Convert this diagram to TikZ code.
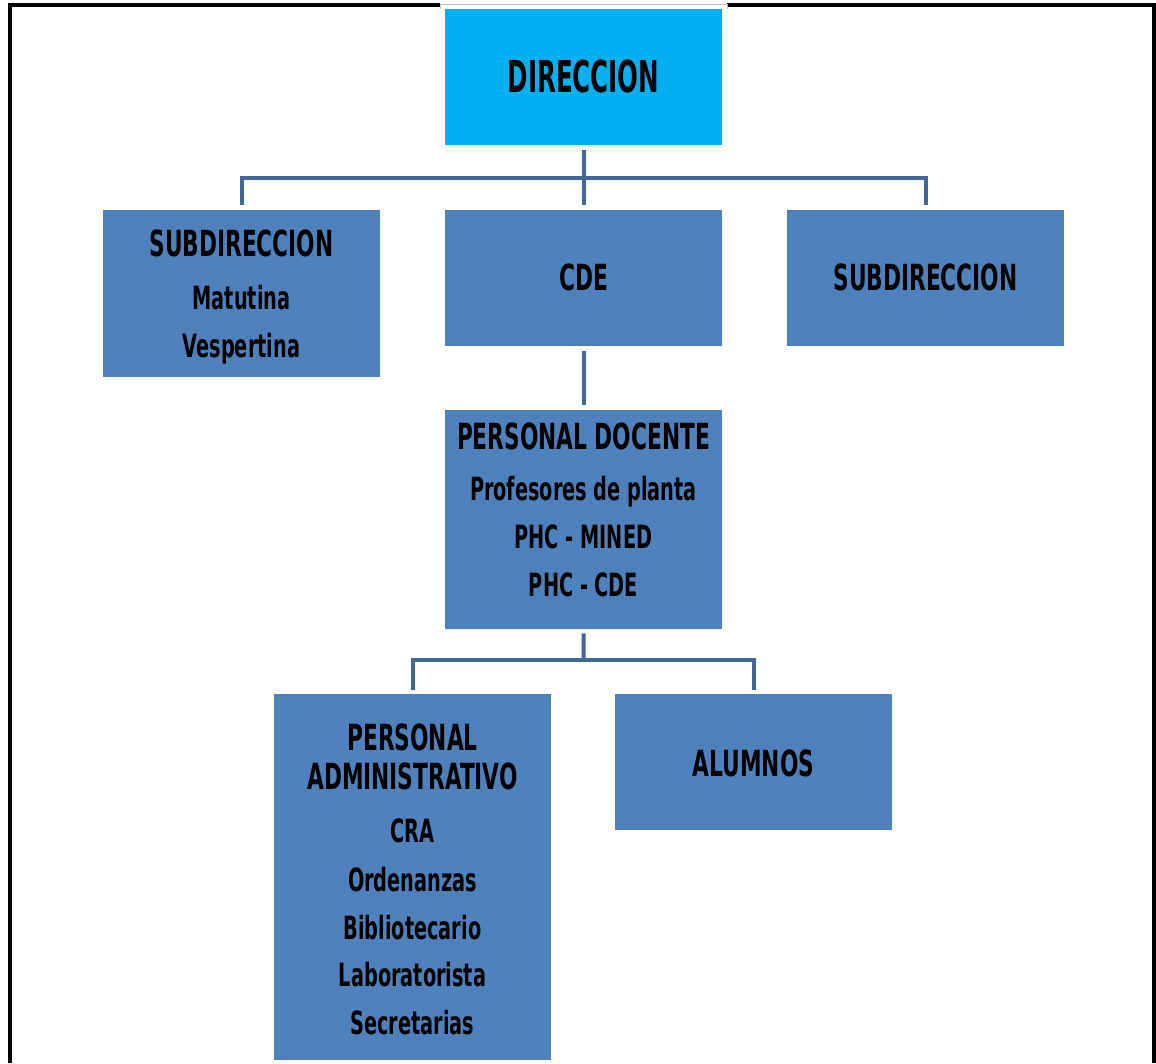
\documentclass[tikz,border=0pt]{standalone}
\usepackage{fontspec}
\newfontfamily\agency{DejaVu Sans Condensed}[FakeStretch=0.67]
\newfontfamily\agencytop{DejaVu Sans Condensed}[FakeStretch=0.62]
\definecolor{boxblue}{HTML}{4F81BD}
\definecolor{topcyan}{HTML}{00B0F0}
\definecolor{connblue}{HTML}{41689A}
\begin{document}
\begin{tikzpicture}[x=1pt,y=-1pt,
  box/.style={fill=boxblue, minimum width=277pt, inner sep=0pt, anchor=north west},
  conn/.style={draw=connblue, line width=4pt},
  bigtxt/.style={anchor=base, inner sep=0pt, font=\agencytop\bfseries\fontsize{44}{44}\selectfont},
  ttl/.style={anchor=base, inner sep=0pt, font=\agency\bfseries\fontsize{36}{36}\selectfont},
  itm/.style={anchor=base, inner sep=0pt, font=\agency\bfseries\fontsize{32}{32}\selectfont}]
\useasboundingbox (0,0) rectangle (1156,1063);
% frame
\draw[line width=4pt] (10,1063) -- (10,5) -- (1154,5) -- (1154,1063);
\fill[white] (440,1) rectangle (727,9);
\draw[black!25, line width=0.8pt] (440,9) -- (440,4) -- (727,4) -- (727,9);
% boxes
\node[box, fill=topcyan, minimum height=136pt] (dir) at (445,9) {};
\node[box, minimum height=167pt] (subl) at (103,210) {};
\node[box, minimum height=136pt] (cde) at (445,210) {};
\node[box, minimum height=136pt] (subr) at (787,210) {};
\node[box, minimum height=219pt] (doc) at (445,410) {};
\node[box, minimum height=366pt] (adm) at (274,694) {};
\node[box, minimum height=136pt] (alu) at (615,694) {};
% connectors
\coordinate (bus1) at (583.5,178);
\coordinate (bus2) at (583.5,660);
\draw[conn] ([yshift=-5pt]dir.south) -- ([yshift=5pt]cde.north);
\draw[conn] ([yshift=5pt]subl.north) |- (bus1) -| ([yshift=5pt]subr.north);
\draw[conn] ([yshift=-5pt]cde.south) -- ([yshift=5pt]doc.north);
\draw[conn] ([yshift=-4pt]doc.south) -- (bus2);
\draw[conn] ([yshift=4pt]adm.north) |- (bus2) -| ([yshift=4pt]alu.north);
% texts
\node[bigtxt] (tdir) at (583.5,92) {DIRECCION};
\node[ttl] (tsubl) at (241.5,256) {SUBDIRECCION};
\node[itm] (tmat) at (241.5,309) {Matutina};
\node[itm] (tves) at (241.5,357) {Vespertina};
\node[ttl] (tcde) at (583.5,290) {CDE};
\node[ttl] (tsubr) at (925.5,290) {SUBDIRECCION};
\node[ttl] (tdoc) at (583.5,449) {PERSONAL DOCENTE};
\node[itm] (tpro) at (583.5,500) {Profesores de planta};
\node[itm] (tmin) at (583.5,548) {PHC - MINED};
\node[itm] (tphc) at (583.5,596) {PHC - CDE};
\node[ttl] (tper) at (412.5,750) {PERSONAL};
\node[ttl] (tadm) at (412.5,789) {ADMINISTRATIVO};
\node[itm] (tcra) at (412.5,842) {CRA};
\node[itm] (tord) at (412.5,891) {Ordenanzas};
\node[itm] (tbib) at (412.5,939) {Bibliotecario};
\node[itm] (tlab) at (412.5,986) {Laboratorista};
\node[itm] (tsec) at (412.5,1034) {Secretarias};
\node[ttl] (talu) at (753.5,776) {ALUMNOS};
\end{tikzpicture}
\end{document}
